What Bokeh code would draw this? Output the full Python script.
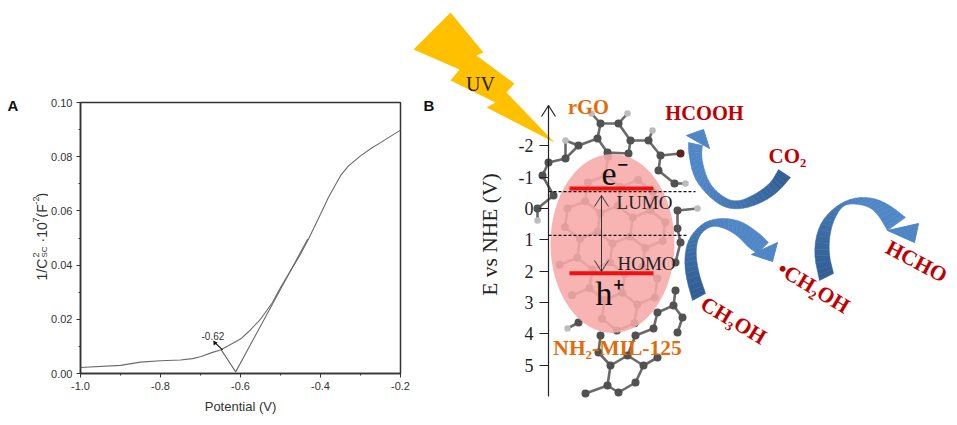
import math
import numpy as np
from bokeh.plotting import figure
from bokeh.layouts import row, column
from bokeh.models import Range1d, FixedTicker, Label
from bokeh.core.properties import value
from bokeh.embed import file_html
from bokeh.resources import INLINE

# ---- Panel A data
potential = [-1.0,-0.9,-0.85,-0.8,-0.75,-0.72,-0.7,-0.67,-0.65,-0.6,-0.58,-0.55,-0.52,-0.5,-0.45,-0.43,-0.4,-0.38,-0.35,-0.33,-0.3,-0.27,-0.25,-0.2]
inv_c2 = [0.0022,0.003,0.0042,0.0047,0.005,0.0055,0.0062,0.0078,0.0087,0.0127,0.0154,0.020,0.0262,0.0317,0.044,0.0496,0.0588,0.065,0.073,0.0766,0.0803,0.0834,0.0852,0.0898]
tangent_x = [-0.648,-0.612,-0.432]
tangent_y = [0.0087,0.0006,0.0496]
x_ticks = [-1.0,-0.8,-0.6,-0.4,-0.2]
y_ticks = [0.0,0.02,0.04,0.06,0.08,0.10]

# ---- Panel B data
energy_ticks = [-2,-1,0,1,2,3,4,5]
lumo_level = -0.64
homo_level = 2.07
dash_levels = [-0.54, 0.86]
bolt = [(450,12),(483,52),(476,55),(514,83),(506,92),(554,142),(486,107),(495,102),(450,80),(459,69),(413,49)]
arrows = [
 dict(outer=[(790,177),(777,192),(760,203),(740,209),(723,207),(707,195),(693,177),(688,153),(688,142)],
      inner=[(778,169),(770,183),(753,195),(735,202),(720,195),(708,182),(702,163),(701,152),(702,145)],
      head=[(686,135),(703,129),(709,148)]),
 dict(outer=[(692,300),(685,275),(684,255),(688,238),(702,222),(720,217),(740,220),(758,232),(768,242)],
      inner=[(705,293),(698,272),(695,252),(698,235),(710,225),(723,227),(737,235),(748,247),(757,253)],
      head=[(777,242),(772,261),(751,254)]),
 dict(outer=[(819,280),(813,252),(818,225),(833,207),(852,197),(873,197),(890,205),(905,217)],
      inner=[(833,273),(828,252),(830,228),(838,210),(846,203),(862,204),(875,210),(887,230)],
      head=[(918,223),(914,242),(887,230)]),
]
graphene_atoms = [(600,123),(618,123),(597,138),(630,140),(648,140),(578,145),(607,152),(628,153),(660,155),
                  (565,158),(548,162),(658,170),(542,175),(553,195),(674,183),(677,210),
                  (537,208),(677,228),(680,242),(675,262),(675,290),(673,305),(657,312),(682,317),
                  (653,328),(677,332),(635,335),(578,322),(600,335),(598,352),(627,355),(657,357),(610,365),
                  (643,365),(635,382),(607,385),(585,393),(618,392)]
graphene_ends = [(627,113),(591,113),(652,130),(565,140),(685,183),(697,208),(537,220),(567,328),(680,153)]

# ---- Narrow strip left of panel A: the panel letter and the y title
strip = figure(width=48, height=425, output_backend="svg", toolbar_location=None,
               x_range=Range1d(0,48), y_range=Range1d(425,0),
               min_border_left=0, min_border_right=0, min_border_top=0, min_border_bottom=0,
               background_fill_color="white", border_fill_color="white", outline_line_color=None)
strip.grid.visible = False
strip.axis.visible = False
R = math.pi/2
def S(x, y, s, size, bold=False, angle=R, color="#333333"):
    strip.text([x],[y],[s], text_font=value("Liberation Sans"), text_font_size=f"{size}px",
               text_font_style="bold" if bold else "normal", text_color=color, angle=angle,
               text_align="left", text_baseline="middle")
S(7, 105, "A", 15, bold=True, angle=0, color="#111111")
S(41, 280, "1/C", 14)
S(35, 257, "2", 9)
S(44, 257, "SC", 8)
S(41, 242, "·10", 14)
S(35, 222, "7", 9)
S(41, 217, "(F", 14)
S(35, 204, "-2", 9)
S(41, 197, ")", 14)

# ---- Panel A
left = figure(width=364, height=425, output_backend="svg", toolbar_location=None,
              x_range=Range1d(-1.0,-0.2), y_range=Range1d(0,0.10),
              min_border_left=31, min_border_right=12, min_border_top=102, min_border_bottom=52,
              background_fill_color="white", border_fill_color="white",
              outline_line_color="#333333", outline_line_width=1.5)
left.grid.visible = False
left.xaxis.ticker = FixedTicker(ticks=x_ticks, minor_ticks=[-0.9,-0.7,-0.5,-0.3])
left.yaxis.ticker = FixedTicker(ticks=y_ticks, minor_ticks=[0.01,0.03,0.05,0.07,0.09])
left.xaxis.major_label_overrides = {t: f"{t:.1f}" for t in x_ticks}
left.yaxis.major_label_overrides = {t: f"{t:.2f}" for t in y_ticks}
for ax in (left.xaxis[0], left.yaxis[0]):
    ax.major_label_text_font = "Liberation Sans"
    ax.major_label_text_font_size = "11px"
    ax.major_label_text_color = "#333333"
    ax.axis_line_color = "#333333"
    ax.axis_line_width = 1.5
    ax.major_tick_line_color = "#333333"
    ax.minor_tick_line_color = "#333333"
    ax.major_tick_in = 0
    ax.major_tick_out = 4
    ax.minor_tick_in = 0
    ax.minor_tick_out = 2
    ax.major_label_standoff = 4
left.xaxis.axis_label = "Potential (V)"
left.xaxis.axis_label_text_font = "Liberation Sans"
left.xaxis.axis_label_text_font_style = "normal"
left.xaxis.axis_label_text_font_size = "13px"
left.xaxis.axis_label_text_color = "#333333"
left.xaxis.axis_label_standoff = 6

left.line(potential, inv_c2, line_color="#6a6a6a", line_width=1.1)
left.line(tangent_x, tangent_y, line_color="#6a6a6a", line_width=1.1)
left.line([-0.645,-0.662],[0.0087,0.0111], line_color="#111111", line_width=1.2)
left.scatter([-0.664],[0.0113], marker="triangle", size=5, angle=0.6, fill_color="#111111", line_color=None)
left.text([-0.669],[0.0139],["-0.62"], text_font=value("Liberation Sans"), text_font_size="10px",
          text_color="#333333", text_align="center", text_baseline="middle")

# ---- Panel B: x in page pixels, y in volts
PX_PER_V, E0 = 31.3, 208
def Y(px):
    return (np.asarray(px, dtype=float) - E0) / PX_PER_V

right = figure(width=545, height=425, output_backend="svg", toolbar_location=None,
               x_range=Range1d(412,957), y_range=Range1d(float(Y(425)),float(Y(0))),
               min_border_left=0, min_border_right=0, min_border_top=0, min_border_bottom=0,
               background_fill_color="white", border_fill_color="white",
               outline_line_color=None)
right.grid.visible = False
right.xaxis.visible = False
yax = right.yaxis[0]
yax.fixed_location = 548
yax.bounds = (float(Y(105)), float(Y(396)))
yax.ticker = FixedTicker(ticks=energy_ticks)
yax.major_label_overrides = {t: str(t) for t in energy_ticks}
yax.major_label_text_font = "Liberation Serif"
yax.major_label_text_font_size = "18px"
yax.major_label_text_color = "#222222"
yax.major_tick_in = 0
yax.major_tick_out = 9
yax.major_tick_line_color = "#222222"
yax.minor_tick_line_color = None
yax.axis_line_color = "#222222"
yax.axis_line_width = 1.2
yax.major_label_standoff = 6

# graphene sheet: rings under the ellipse plus the atoms that stick out round it
a = 19.0
rot = math.radians(8)
inner = []
for i in range(-8, 9):
    for j in range(-9, 10):
        for off in (0, 1):
            lx = i*a*math.sqrt(3) + j*a*math.sqrt(3)/2
            ly = j*1.5*a + off*a
            x = 612 + lx*math.cos(rot) - ly*math.sin(rot)
            y = 243 + lx*math.sin(rot) + ly*math.cos(rot)
            if ((x-612)/60)**2 + ((y-243)/88)**2 <= 1:
                inner.append((x, y))

def bonds(points, limit):
    pts = np.array(points)
    out = []
    for i in range(len(pts)):
        for k in range(i+1, len(pts)):
            if np.hypot(*(pts[i]-pts[k])) < limit:
                out.append((pts[i], pts[k]))
    return out

segs = bonds(inner, a*1.1) + bonds(graphene_atoms + graphene_ends, 23.5)
right.segment([s[0][0] for s in segs], Y([s[0][1] for s in segs]),
              [s[1][0] for s in segs], Y([s[1][1] for s in segs]),
              line_color="#6a6a6a", line_width=2.6)
allat = np.array(inner + graphene_atoms)
right.scatter(allat[:,0], Y(allat[:,1]), size=8, marker="circle", fill_color="#515151", line_color=None)
ends = np.array(graphene_ends)
right.scatter(ends[:,0], Y(ends[:,1]), size=6.5, marker="circle", fill_color="#bdbdbd", line_color=None)
right.scatter([680], [float(Y(153))], size=8, marker="circle", fill_color="#5a2222", line_color=None)

# ellipse
right.ellipse([612],[float(Y(243))], width=124, height=179/PX_PER_V, fill_color="#f7a8a8", fill_alpha=0.88, line_color=None)

# bolt
right.patch([p[0] for p in bolt], Y([p[1] for p in bolt]), fill_color="#ffc000", line_color=None)

# curved arrows
def smooth(points, rounds=2):
    pts = np.array(points, dtype=float)
    for _ in range(rounds):
        q = [pts[0]]
        for u, v in zip(pts[:-1], pts[1:]):
            q += [0.75*u+0.25*v, 0.25*u+0.75*v]
        q.append(pts[-1])
        pts = np.array(q)
    return pts

dark = np.array([0x2f,0x5c,0x90]); light = np.array([0x4f,0x86,0xc6])
for arr in arrows:
    o, n_ = smooth(arr["outer"]), smooth(arr["inner"])
    n = len(o)-1
    xs, ys, cols = [], [], []
    for i in range(n):
        c = dark + (light-dark)*min(1,(i/(n-1))*1.5)
        cols.append("#%02x%02x%02x" % tuple(int(v) for v in c))
        xs.append([o[i][0],o[i+1][0],n_[i+1][0],n_[i][0]])
        ys.append(list(Y([o[i][1],o[i+1][1],n_[i+1][1],n_[i][1]])))
    right.patches(xs, ys, fill_color=cols, line_color=cols, line_width=0.5)
    right.patch([p[0] for p in arr["head"]], Y([p[1] for p in arr["head"]]), fill_color="#4f86c6", line_color="#4f86c6")

# levels
right.segment([569,569],[lumo_level,homo_level],[653,653],[lumo_level,homo_level], line_color="#f01010", line_width=4)
right.segment([548,548],dash_levels,[695,688],dash_levels, line_color="#111111", line_width=1.1, line_dash="3 2")
# double arrow
right.line([601,601],Y([195,271]), line_color="#333333", line_width=1)
right.line([594,601,608],Y([206,195,206]), line_color="#333333", line_width=1)
right.line([594,601,608],Y([260,271,260]), line_color="#333333", line_width=1)
# axis arrow head
right.line([541,548,555],Y([116,105,116]), line_color="#222222", line_width=1.2)

def T(x, y, s, size, color="#222222", bold=False, angle=0, font="Liberation Serif", align="center"):
    right.text([x],[float(Y(y))],[s], text_font=value(font), text_font_size=f"{size}px",
               text_color=color, text_font_style="bold" if bold else "normal", angle=angle,
               text_align=align, text_baseline="middle")

ORANGE, RED = "#e36c0a", "#c00000"
T(480,83,"UV",20)
T(588,106,"rGO",20.5,ORANGE,True)
T(704,112,"HCOOH",20.5,RED,True)
T(787,155,"CO₂",21,RED,True)
T(614,173,"e⁻",34,"#111111")
T(609,293,"h⁺",34,"#111111")
T(644,202,"LUMO",19)
T(646,263,"HOMO",19)
T(617,347,"NH₂-MIL-125",21.5,ORANGE,True)
T(813,287,"•CH₂OH",21.5,RED,True,math.radians(-31))
T(733,320,"CH₃OH",21.5,RED,True,math.radians(-31))
T(916,261,"HCHO",21.5,RED,True,math.radians(-28))
T(489,234,"E vs NHE (V)",21.5,"#222222",False,math.pi/2)
T(423,105,"B",15,"#111111",True,font="Liberation Sans",align="left")

page = row(column(strip), column(left), column(right), spacing=0)
open("out.html","w").write(file_html(page, INLINE))
